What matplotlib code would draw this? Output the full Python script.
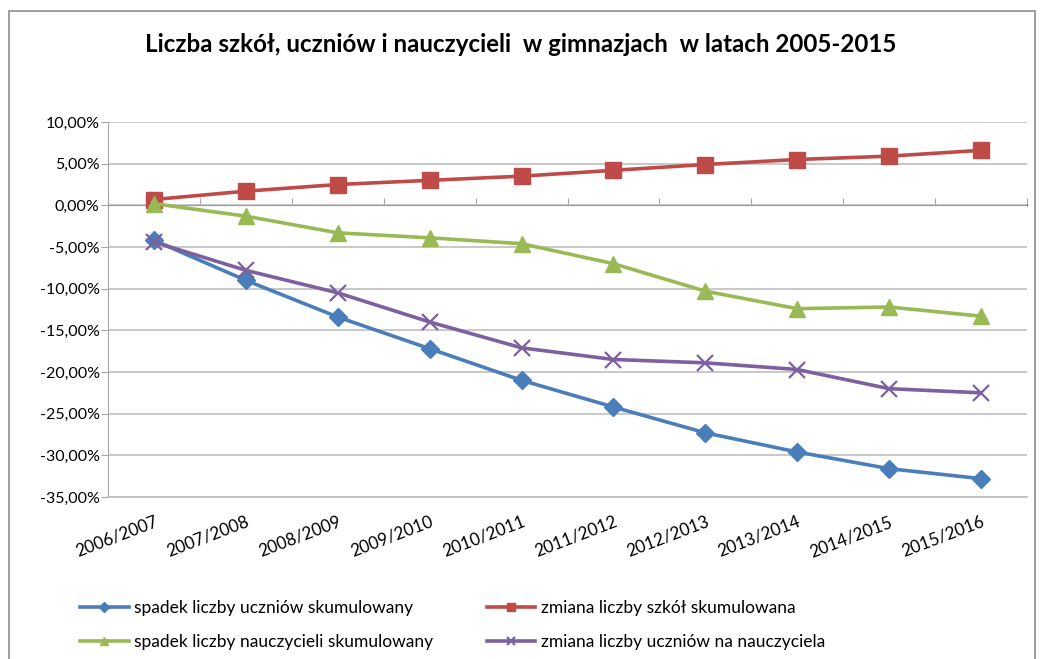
import numpy as np
import matplotlib
matplotlib.use("Agg")
import matplotlib.pyplot as plt
from matplotlib.ticker import FuncFormatter
from matplotlib.patches import Rectangle

plt.rcParams['font.family'] = ['Lato', 'DejaVu Sans']

years = ['2006/2007', '2007/2008', '2008/2009', '2009/2010', '2010/2011',
         '2011/2012', '2012/2013', '2013/2014', '2014/2015', '2015/2016']

# values in percent
uczniowie = [-4.2, -9.0, -13.4, -17.2, -21.0, -24.2, -27.3, -29.6, -31.6, -32.8]
szkoly = [0.7, 1.7, 2.5, 3.0, 3.5, 4.2, 4.9, 5.5, 5.9, 6.6]
nauczyciele = [0.2, -1.3, -3.3, -3.9, -4.6, -7.0, -10.3, -12.4, -12.2, -13.3]
na_nauczyciela = [-4.4, -7.8, -10.5, -14.0, -17.1, -18.5, -18.9, -19.7, -22.0, -22.5]

labels = ['spadek liczby uczniów skumulowany',
          'spadek liczby nauczycieli skumulowany',
          'zmiana liczby szkół skumulowana',
          'zmiana liczby uczniów na nauczyciela']

fig = plt.figure(figsize=(10.41, 6.59), dpi=100)
ax = fig.add_axes([108/1041, 1 - 497/659, (1027 - 108)/1041, (497 - 122)/659])

x = np.arange(len(years))
lw = 2.6
l1, = ax.plot(x, uczniowie, color='#4A7EBB', lw=lw, marker='D', ms=9, zorder=5)
l2, = ax.plot(x, szkoly, color='#BE4B48', lw=lw, marker='s', ms=11, zorder=4)
l3, = ax.plot(x, nauczyciele, color='#98B954', lw=lw, marker='^', ms=11, zorder=4)
l4, = ax.plot(x, na_nauczyciela, color='#7D60A0', lw=lw, marker='x', ms=11, mew=1.6, zorder=6)

ax.set_xlim(-0.5, len(years) - 0.5)
ax.set_ylim(-35, 10)
ax.set_yticks(np.arange(-35, 11, 5))
ax.yaxis.set_major_formatter(FuncFormatter(lambda v, p: f'{v:.2f}%'.replace('.', ',')))
ax.grid(axis='y', color='#BFBFBF', lw=1.2)
ax.set_axisbelow(True)

for s in ['top', 'right']:
    ax.spines[s].set_visible(False)
ax.spines['left'].set_color('#A6A6A6')
ax.spines['bottom'].set_color('#BFBFBF')
ax.spines['bottom'].set_linewidth(1.2)
ax.tick_params(axis='y', length=5, color='#A6A6A6', labelsize=11.5, pad=1)
ax.set_xticks(x)
ax.set_xticklabels(years, rotation=21, ha='right', rotation_mode='anchor', fontsize=12.3)
ax.tick_params(axis='x', length=0, pad=12)

# horizontal axis line at 0 with category boundary ticks
sec = ax.secondary_xaxis(35/45)
sec.set_xticks(np.arange(-0.5, len(years), 1.0))
sec.set_xticklabels([])
sec.tick_params(axis='x', length=5, color='#A6A6A6', direction='out')
sec.spines['bottom'].set_color('#A6A6A6')
sec.spines['bottom'].set_linewidth(1.2)

fig.text(0.5, 1 - 45/659, 'Liczba szkół, uczniów i nauczycieli  w gimnazjach  w latach 2005-2015',
         ha='center', va='center', fontsize=17.4, fontweight='bold')

fig.legend([l1, l3, l2, l4], labels, ncol=2, frameon=False, loc='center left',
           bbox_to_anchor=(80/1041, 1 - 625/659), fontsize=12.5, handlelength=2.8,
           columnspacing=3.1, labelspacing=1.05, handletextpad=0.3,
           borderpad=0, borderaxespad=0, markerscale=0.55)

fig.patches.append(Rectangle((9/1041, -0.05), (1035 - 9)/1041, 1.05 - 11/659,
                             transform=fig.transFigure, fill=False,
                             edgecolor='#8C8C8C', lw=1.2))

fig.savefig('out.png', dpi=100)
